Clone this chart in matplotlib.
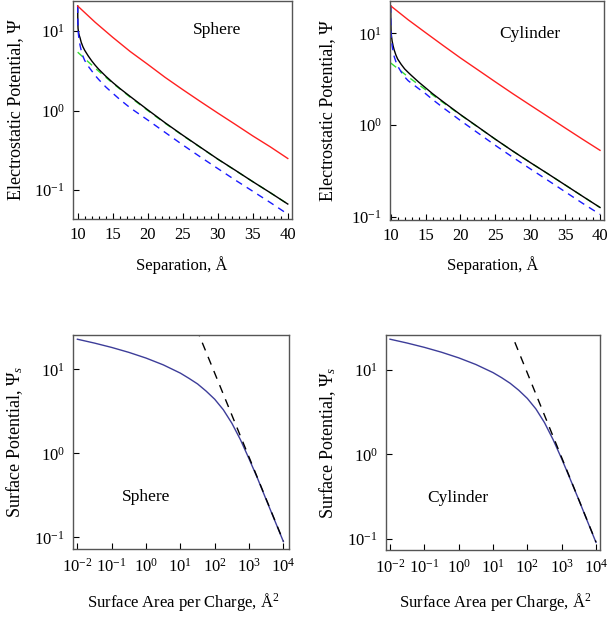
import numpy as np
import matplotlib
matplotlib.use("Agg")
import matplotlib.pyplot as plt
from matplotlib.ticker import NullLocator

plt.rcParams['font.family'] = ['Liberation Serif', 'DejaVu Serif']
plt.rcParams['mathtext.fontset'] = 'custom'
plt.rcParams['mathtext.rm'] = 'Liberation Serif'
plt.rcParams['mathtext.it'] = 'Liberation Serif:italic'
plt.rcParams['font.size'] = 12

# ---- top row: potential vs separation (A) ----
sep_far = [10, 12.5, 15, 17.5, 20, 22.5, 25, 27.5, 30, 32.5, 35, 37.5, 40]
sep = [10, 10.02, 10.05, 10.1, 10.2, 10.35, 10.5, 10.75, 11, 11.5, 12, 12.5, 13, 14, 15, 16,
       17.5, 20, 22.5, 25, 27.5, 30, 32.5, 35, 37.5, 40]

sph_red = [20.5, 12.8, 8.3, 5.5, 3.8, 2.6, 1.83, 1.3, 0.93, 0.67, 0.48, 0.35, 0.25]
sph_green = [5.4, 3.4, 2.2, 1.47, 1.0, 0.69, 0.485, 0.345, 0.245, 0.177, 0.128, 0.093, 0.067]
sph_black = [20.5, 13, 10.8, 9.8, 8.9, 8.1, 7.2, 6.3, 5.7, 4.85, 4.2, 3.7, 3.3, 2.7, 2.25, 1.9,
             1.5, 1.02, 0.7, 0.49, 0.347, 0.246, 0.178, 0.128, 0.093, 0.067]
sph_blue = [20.5, 14, 10.5, 9.2, 7.7, 6.5, 5.7, 4.8, 4.25, 3.6, 3.15, 2.75, 2.45, 1.98, 1.65, 1.38,
            1.08, 0.76, 0.53, 0.37, 0.262, 0.187, 0.134, 0.097, 0.07, 0.05]

cyl_red = [20, 14.1, 10.2, 7.4, 5.4, 4.0, 2.96, 2.2, 1.65, 1.24, 0.93, 0.70, 0.53]
cyl_green = [4.76, 3.36, 2.43, 1.76, 1.29, 0.95, 0.70, 0.52, 0.39, 0.295, 0.222, 0.167, 0.126]
cyl_black = [20, 14, 11, 9.5, 8.3, 7.3, 6.6, 5.8, 5.25, 4.6, 4.1, 3.76, 3.46, 2.95, 2.55, 2.2,
             1.8, 1.3, 0.955, 0.70, 0.52, 0.39, 0.295, 0.222, 0.167, 0.126]
cyl_blue = [20, 13.5, 10.3, 8.8, 7.4, 6.3, 5.6, 4.9, 4.4, 3.8, 3.35, 3.05, 2.85, 2.5, 2.2, 1.9,
            1.55, 1.12, 0.82, 0.6, 0.445, 0.333, 0.25, 0.187, 0.14, 0.106]

sep_ticks = [10, 15, 20, 25, 30, 35, 40]
sep_minor = [11, 12, 13, 14, 16, 17, 18, 19, 21, 22, 23, 24, 26, 27, 28, 29,
             31, 32, 33, 34, 36, 37, 38, 39]
psi_ticks = [0.1, 1, 10]
psi_labels = ['$10^{-1}$', '$10^{0}$', '$10^{1}$']

# ---- bottom row: surface potential vs area per charge ----
area = [0.01, 0.0316, 0.1, 0.316, 1, 3.16, 10, 17.8, 31.6, 56.2, 100, 178, 316, 562,
        1000, 1778, 3162, 5623, 10000]
sph_surf = [22.8, 20.5, 18.2, 15.9, 13.6, 11.3, 9.0, 7.8, 6.7, 5.5, 4.4, 3.3, 2.28, 1.45,
            0.86, 0.5, 0.28, 0.158, 0.089]
cyl_surf = [23.1, 20.8, 18.5, 16.2, 13.9, 11.6, 9.3, 8.1, 6.95, 5.75, 4.6, 3.45, 2.38, 1.5,
            0.89, 0.51, 0.29, 0.162, 0.091]
lin_area = [20, 10000]
sph_lin = [45.0, 0.09]
cyl_lin = [46.0, 0.092]

area_ticks = [1e-2, 1e-1, 1e0, 1e1, 1e2, 1e3, 1e4]
area_labels = ['$10^{-2}$', '$10^{-1}$', '$10^{0}$', '$10^{1}$', '$10^{2}$', '$10^{3}$', '$10^{4}$']

fig = plt.figure(figsize=(6.09, 6.18), dpi=100)

def px_axes(x0, y0, x1, y1):
    return fig.add_axes([x0 / 609, 1 - y1 / 618, (x1 - x0) / 609, (y1 - y0) / 618])

frame = '#555555'

def style(ax):
    for s in ax.spines.values():
        s.set_color(frame)
        s.set_linewidth(1.0)
    ax.tick_params(which='both', direction='in', top=False, right=False, pad=6)
    ax.tick_params(which='major', length=4, width=0.8)
    ax.tick_params(which='minor', length=2.5, width=0.8)

def top_panel(ax, red, green, black, blue, ylim, xlim, name, tpos):
    ax.plot(sep_far, green, color='#33dd33', lw=1.0, dashes=(5, 4))
    ax.plot(sep, black, color='black', lw=1.0)
    ax.plot(sep, blue, color='#1a1aff', lw=1.0, dashes=(5, 4))
    ax.plot(sep_far, red, color='#ff2020', lw=1.0)
    ax.set_yscale('log')
    ax.set_xlim(*xlim)
    ax.set_ylim(*ylim)
    ax.set_xticks(sep_ticks)
    ax.set_xticks(sep_minor, minor=True)
    ax.set_yticks(psi_ticks, psi_labels)
    ax.yaxis.set_minor_locator(NullLocator())
    ax.set_xlabel('Separation, Å')
    ax.set_ylabel('Electrostatic Potential, Ψ', fontsize=13)
    ax.text(tpos[0], tpos[1], name, transform=ax.transAxes, ha='center', va='center', fontsize=12.5)
    style(ax)

def bottom_panel(ax, surf, lin, ylim, xlim, name, tpos):
    ax.plot(area, surf, color='#3d3d99', lw=1.0)
    ax.plot(lin_area, lin, color='black', lw=1.0, dashes=(6, 5))
    ax.set_xscale('log')
    ax.set_yscale('log')
    ax.set_xlim(*xlim)
    ax.set_ylim(*ylim)
    ax.set_xticks(area_ticks, area_labels)
    ax.set_yticks(psi_ticks, psi_labels)
    ax.xaxis.set_minor_locator(NullLocator())
    ax.yaxis.set_minor_locator(NullLocator())
    ax.set_xlabel('Surface Area per Charge, Å$^2$')
    ax.set_ylabel('Surface Potential, $\\Psi_{\\mathit{s}}$', fontsize=13)
    ax.text(tpos[0], tpos[1], name, transform=ax.transAxes, ha='center', va='center', fontsize=12.5)
    style(ax)

ax1 = px_axes(73, 1, 292, 219)
top_panel(ax1, sph_red, sph_green, sph_black, sph_blue, (0.0435, 23.7), (9.33, 40.6),
          'Sphere', (0.656, 0.866))
ax1.xaxis.set_label_coords(0.496, -0.21)
ax1.yaxis.set_label_coords(-0.26, 0.5)

ax2 = px_axes(390, 1, 604, 220)
top_panel(ax2, cyl_red, cyl_green, cyl_black, cyl_blue, (0.092, 22.6), (9.9, 40.57),
          'Cylinder', (0.654, 0.85))
ax2.xaxis.set_label_coords(0.48, -0.205)
ax2.yaxis.set_label_coords(-0.29, 0.5)

ax3 = px_axes(73, 335, 288.7, 549.3)
bottom_panel(ax3, sph_surf, sph_lin, (0.072, 25.6), (10 ** -2.128, 10 ** 4.155),
             'Sphere', (0.338, 0.245))
ax3.xaxis.set_label_coords(0.51, -0.245)
ax3.yaxis.set_label_coords(-0.27, 0.5)

ax4 = px_axes(386, 335, 600, 550)
bottom_panel(ax4, cyl_surf, cyl_lin, (0.074, 25.9), (10 ** -2.117, 10 ** 4.117),
             'Cylinder', (0.336, 0.242))
ax4.xaxis.set_label_coords(0.51, -0.24)
ax4.yaxis.set_label_coords(-0.273, 0.5)

for ax in (ax1, ax2, ax3, ax4):
    ax.xaxis.label.set_va('center')
    ax.yaxis.label.set_va('center')

fig.savefig('out.png', dpi=100)
